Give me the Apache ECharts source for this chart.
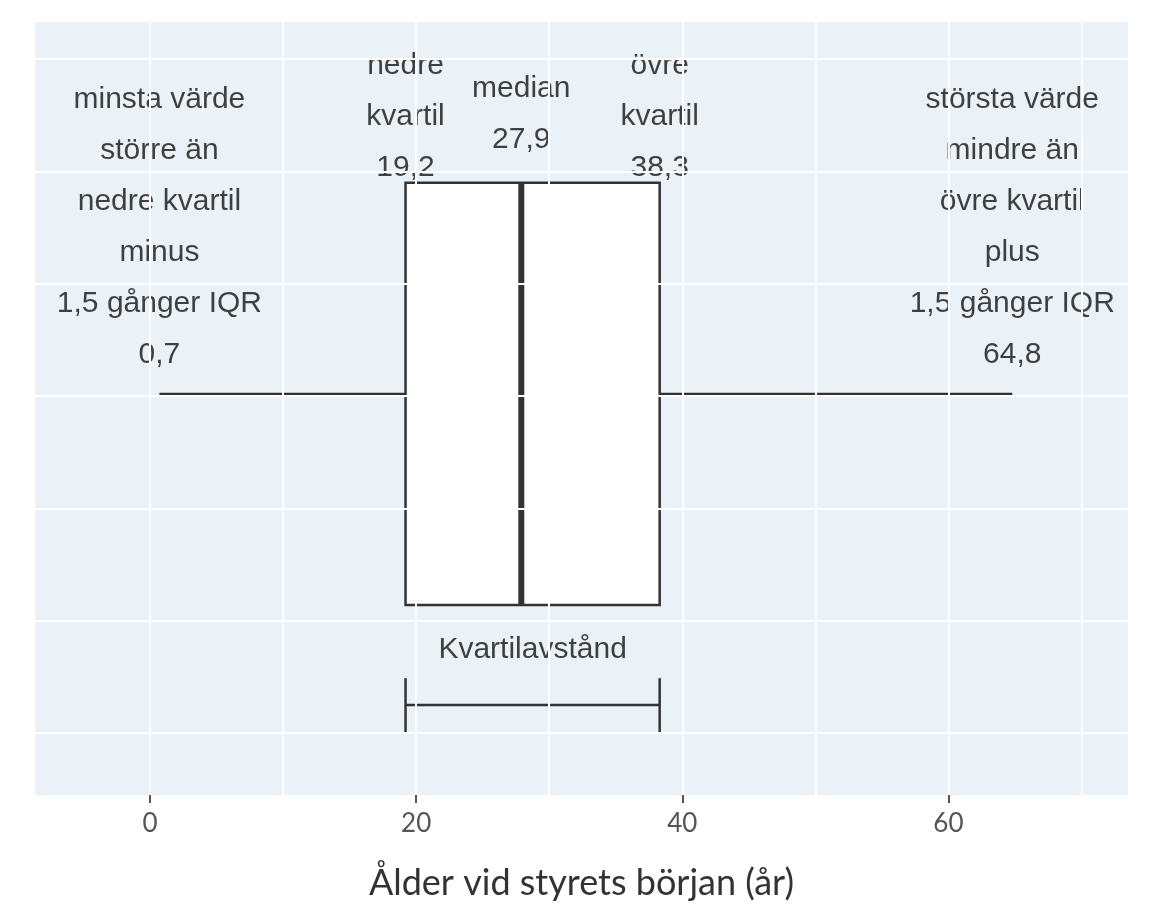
<!DOCTYPE html>
<html><head><meta charset="utf-8">
<script src="https://cdn.jsdelivr.net/npm/echarts@6/dist/echarts.min.js"></script>
<style>html,body{margin:0;padding:0;background:#fff}#c{width:1152px;height:922px}</style>
</head><body><div id="c"></div>
<script>
const stats = [0.7, 19.2, 27.9, 38.3, 64.8]; // min, q1, median, q3, max
const xTicks = [0, 20, 40, 60];
const labelTexts = [
  'minsta värde\nstörre än\nnedre kvartil\nminus\n1,5 gånger IQR\n0,7',
  'nedre\nkvartil\n19,2',
  'median\n27,9',
  'övre\nkvartil\n38,3',
  'största värde\nmindre än\növre kvartil\nplus\n1,5 gånger IQR\n64,8',
  'Kvartilavstånd'
];
const labelX = [stats[0], stats[1], stats[2], stats[3], stats[4], (stats[1]+stats[3])/2];
const labelY = [5.05, 6.04, 6.06, 6.04, 5.05, 1.29];
const gridY = [0.55, 1.55, 2.55, 3.55, 4.55, 5.55, 6.55];
const boxY = {top: 5.45, bottom: 1.69, mid: 3.57, bracket: 0.80, tick: 0.24};

const chart = echarts.init(document.getElementById('c'));
chart.setOption({
  animation: false,
  backgroundColor: '#fff',
  grid: {left: 35, right: 24, top: 22, bottom: 127, backgroundColor: '#EBF2F7', show: true, borderWidth: 0},
  xAxis: {
    type: 'value', min: -8.65, max: 73.5,
    axisLine: {show: false},
    axisTick: {show: true, customValues: xTicks, length: 8, lineStyle: {color: '#555', width: 2}},
    axisLabel: {customValues: xTicks, color: '#555', fontSize: 26, fontFamily: 'Lato', margin: 16},
    splitLine: {show: false},
    name: 'Ålder vid styrets början (år)', nameLocation: 'middle', nameGap: 70,
    nameTextStyle: {color: '#333', fontSize: 36, fontFamily: 'Lato'}
  },
  yAxis: {type: 'value', min: 0, max: 6.88, show: false, splitLine: {show: false}},
  series: [
    {
      type: 'line', data: [], silent: true,
      markLine: {
        silent: true, symbol: 'none', label: {show: false},
        lineStyle: {color: '#fff', width: 2, type: 'solid'},
        data: [].concat(
          gridY.map(v => ({yAxis: v})),
          [0,10,20,30,40,50,60,70].map(v => ({xAxis: v}))
        )
      }
    },
    {
      type: 'custom', silent: true,
      data: [stats],
      renderItem: function (params, api) {
        const c = (x, y) => api.coord([x, y]);
        const [mn, q1, md, q3, mx] = stats;
        const tl = c(q1, boxY.top), br = c(q3, boxY.bottom);
        const st = {stroke: '#333', lineWidth: 2.5, fill: null};
        const line = (a, b, w) => ({type: 'line', shape: {x1: a[0], y1: a[1], x2: b[0], y2: b[1]}, style: {stroke: '#333', lineWidth: w || 2.5}});
        return {type: 'group', children: [
          {type: 'rect', shape: {x: tl[0], y: tl[1], width: br[0]-tl[0], height: br[1]-tl[1]}, style: {fill: '#fff', stroke: '#333', lineWidth: 2.5}},
          line(c(md, boxY.top), c(md, boxY.bottom), 6),
          line(c(mn, boxY.mid), c(q1, boxY.mid)),
          line(c(q3, boxY.mid), c(mx, boxY.mid)),
          line(c(q1, boxY.bracket), c(q3, boxY.bracket)),
          line(c(q1, boxY.bracket-boxY.tick), c(q1, boxY.bracket+boxY.tick)),
          line(c(q3, boxY.bracket-boxY.tick), c(q3, boxY.bracket+boxY.tick))
        ]};
      }
    },
    {
      type: 'scatter', symbolSize: 0, silent: true,
      data: labelX.map((x, i) => ({value: [x, labelY[i]], label: {formatter: labelTexts[i]}})),
      label: {show: true, position: 'inside', color: '#111', fontSize: 30, lineHeight: 51, fontFamily: 'Liberation Sans', align: 'center', verticalAlign: 'middle'}
    }
  ]
});
</script></body></html>
